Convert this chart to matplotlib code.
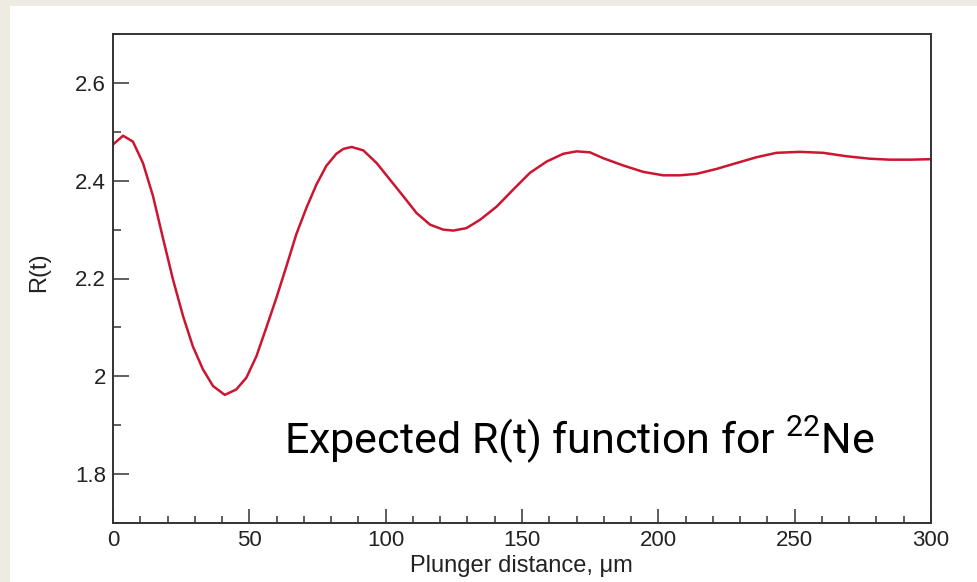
"""
Expected R(t) function for 22Ne, plunger distance scan.
"""
import matplotlib
matplotlib.use("Agg")
import matplotlib.pyplot as plt
from matplotlib.patches import Rectangle
from matplotlib.ticker import MultipleLocator, FuncFormatter

# curve (plunger distance in um, R(t))
distance = [0, 3.7, 7.3, 11, 14.7, 18.3, 22, 25.7, 29.3, 33, 36.7, 41, 45.2,
            48.9, 52.6, 56.2, 59.9, 63.6, 67.2, 70.9, 74.6, 78.2, 81.9, 84.5,
            87.5, 91.8, 96.7, 101.6, 106.5, 111.3, 116.3, 121.1, 124.8, 129.6,
            134.6, 140.7, 146.8, 152.9, 159, 165.1, 170, 174.9, 179.8, 187.2,
            194.5, 201.8, 207.9, 214, 221.3, 228.6, 236, 243.3, 251.9, 260.5,
            269, 277.5, 284.9, 292.3, 300]
r_t = [2.474, 2.492, 2.480, 2.436, 2.368, 2.283, 2.198, 2.123, 2.061, 2.014,
       1.980, 1.962, 1.973, 1.997, 2.041, 2.099, 2.160, 2.225, 2.290, 2.344,
       2.392, 2.430, 2.455, 2.465, 2.469, 2.462, 2.436, 2.402, 2.368, 2.334,
       2.310, 2.300, 2.298, 2.303, 2.320, 2.347, 2.382, 2.416, 2.439, 2.455,
       2.460, 2.458, 2.446, 2.431, 2.418, 2.411, 2.411, 2.414, 2.424, 2.436,
       2.448, 2.457, 2.459, 2.457, 2.450, 2.445, 2.443, 2.443, 2.444]

x_ticks = [0, 50, 100, 150, 200, 250, 300]
y_ticks = [1.8, 2.0, 2.2, 2.4, 2.6]

plt.rcParams["font.family"] = ["Liberation Sans", "DejaVu Sans"]
plt.rcParams["mathtext.fontset"] = "custom"

fig = plt.figure(figsize=(9.78, 5.82), dpi=100, facecolor="#eeebe3")
# white slide area, drawn behind the axes
fig.patches.append(Rectangle((10 / 978, 0), 1, 1 - 6 / 582, transform=fig.transFigure,
                             facecolor="white", edgecolor="none", zorder=-10))

ax = fig.add_axes([113 / 978, 59 / 582, 818 / 978, 489 / 582])
ax.plot(distance, r_t, color="#cc1530", lw=1.8,
        solid_joinstyle="round", solid_capstyle="round")

ax.set_xlim(0, 300)
ax.set_ylim(1.7, 2.7)
ax.set_xticks(x_ticks)
ax.set_yticks(y_ticks)
ax.xaxis.set_minor_locator(MultipleLocator(10))
ax.yaxis.set_minor_locator(MultipleLocator(0.1))
ax.yaxis.set_major_formatter(FuncFormatter(lambda v, p: f"{v:g}"))

ax.tick_params(which="both", direction="in", top=False, right=False,
               colors="#333333", labelcolor="#222222", width=1.1, labelsize=16)
ax.tick_params(axis="y", which="major", length=11.5, pad=5)
ax.tick_params(axis="x", which="major", length=10, pad=5)
ax.tick_params(which="minor", length=5.4)
for sp in ax.spines.values():
    sp.set_color("#333333")
    sp.set_linewidth(1.4)

fig.text(521 / 978, 1 - 566 / 582, "Plunger distance, \u03bcm", fontsize=17,
         color="#222222", ha="center", va="center")
fig.text(39 / 978, 1 - 272 / 582, "R(t)", fontsize=17, color="#222222",
         rotation=90, ha="center", va="center")

fig.text(284 / 978, 1 - 453 / 582, r"Expected R(t) function for $\mathregular{^{22}}$Ne",
         fontsize=31, family=["Roboto", "DejaVu Sans"], color="black",
         ha="left", va="baseline")

fig.savefig("out.png", dpi=100, facecolor=fig.get_facecolor())
